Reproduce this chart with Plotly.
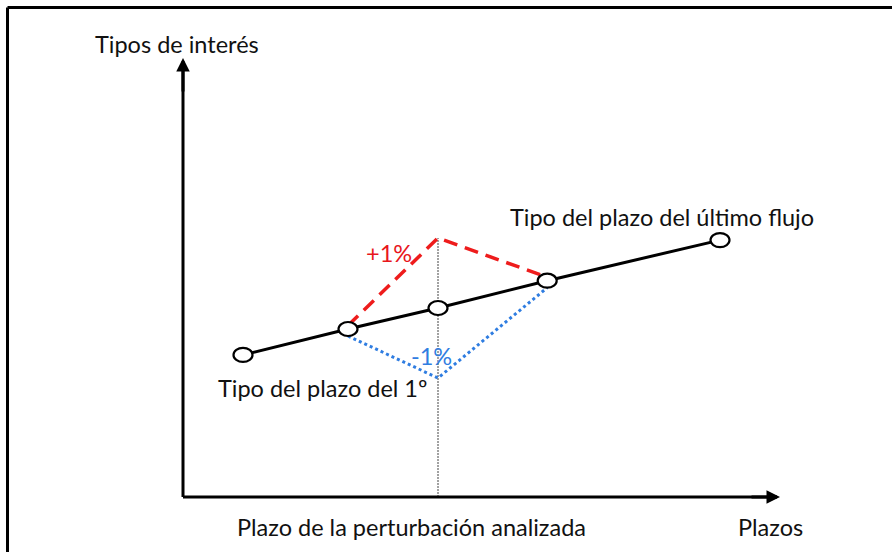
import plotly.graph_objects as go

# Curve of rates (plazo in abstract units, tipo in %)
plazos = [1.0, 2.75, 4.25, 6.07, 8.95]
tipos = [2.03, 2.40, 2.70, 3.09, 3.67]

# Perturbation: +1% / -1% at the analysed term (index 2)
shock = 1.0
idx = 2

# Axis extents
x_axis_end = 9.95
y_axis_end = 6.27

FONT = "Lato, Carlito, Calibri, sans-serif"
FS = 23.5
W, H = 892, 552
PX_X = 60.0   # px per x unit
PX_Y = 70.0   # px per y unit
X0_PX, Y0_PX = 183, 497

xr = [-X0_PX / PX_X, (W - X0_PX) / PX_X]
yr = [-(H - Y0_PX) / PX_Y, Y0_PX / PX_Y]

fig = go.Figure()

# Vertical dotted guide at analysed term
xp = plazos[idx]
peak = tipos[idx] + shock
trough = tipos[idx] - shock
fig.add_trace(go.Scatter(x=[xp, xp], y=[0, peak], mode="lines",
                         line=dict(color="#444444", width=1, dash="2px,1px"),
                         hoverinfo="skip", showlegend=False))

# Main curve
fig.add_trace(go.Scatter(x=plazos, y=tipos, mode="lines",
                         line=dict(color="black", width=3),
                         hoverinfo="skip", showlegend=False))

# +1% red dashed
fig.add_trace(go.Scatter(x=[plazos[idx - 1], xp, plazos[idx + 1]],
                         y=[tipos[idx - 1] + 0.05, peak, tipos[idx + 1] + 0.05],
                         mode="lines",
                         line=dict(color="#ee1c1c", width=3.5, dash="14px,8px"),
                         hoverinfo="skip", showlegend=False))

# -1% blue dotted
fig.add_trace(go.Scatter(x=[plazos[idx - 1], xp, plazos[idx + 1]],
                         y=[tipos[idx - 1] - 0.1, trough, tipos[idx + 1] - 0.1],
                         mode="lines",
                         line=dict(color="#2f7de1", width=3, dash="3px,3px"),
                         hoverinfo="skip", showlegend=False))

shapes = []
# Axes lines
shapes.append(dict(type="line", xref="x", yref="y", x0=0, y0=0, x1=0, y1=y_axis_end - 0.05,
                   line=dict(color="black", width=3)))
shapes.append(dict(type="line", xref="x", yref="y", x0=0, y0=0, x1=x_axis_end - 0.05, y1=0,
                   line=dict(color="black", width=3)))
# Frame (top and left)
shapes.append(dict(type="line", xref="paper", yref="paper", x0=7.5 / W, y0=1 - 7.5 / H, x1=1, y1=1 - 7.5 / H,
                   line=dict(color="black", width=3)))
shapes.append(dict(type="line", xref="paper", yref="paper", x0=7.5 / W, y0=1 - 7.5 / H, x1=7.5 / W, y1=0,
                   line=dict(color="black", width=3)))
# Open ellipse markers
rx, ry = 9.5 / PX_X, 7.0 / PX_Y
for px_, ty in zip(plazos, tipos):
    shapes.append(dict(type="circle", xref="x", yref="y", x0=px_ - rx, x1=px_ + rx,
                       y0=ty - ry, y1=ty + ry, fillcolor="white",
                       line=dict(color="black", width=2.2), layer="above"))

annotations = []
# Arrow heads
annotations.append(dict(x=0, y=y_axis_end, ax=0, ay=y_axis_end - 0.5, xref="x", yref="y",
                        axref="x", ayref="y", showarrow=True, arrowhead=2, arrowsize=0.9,
                        arrowwidth=3, arrowcolor="black", text=""))
annotations.append(dict(x=x_axis_end, y=0, ax=x_axis_end - 0.5, ay=0, xref="x", yref="y",
                        axref="x", ayref="y", showarrow=True, arrowhead=2, arrowsize=0.9,
                        arrowwidth=3, arrowcolor="black", text=""))

def label(text, x, y, color="#111111", size=FS):
    annotations.append(dict(text=text, x=x, y=y, xref="x", yref="y", showarrow=False,
                            font=dict(family=FONT, size=size, color=color),
                            xanchor="center", yanchor="middle"))

label("Tipos de interés", (177 - X0_PX) / PX_X, (Y0_PX - 44) / PX_Y)
label("Tipo del plazo del último flujo", (662 - X0_PX) / PX_X, (Y0_PX - 217) / PX_Y)
label("Tipo del plazo del 1º", (322 - X0_PX) / PX_X, (Y0_PX - 388) / PX_Y)
label("+1%", (389 - X0_PX) / PX_X, (Y0_PX - 253) / PX_Y, color="#e8161c")
label("-1%", (431 - X0_PX) / PX_X, (Y0_PX - 356) / PX_Y, color="#2f7de1")
label("Plazo de la perturbación analizada", (411 - X0_PX) / PX_X, (Y0_PX - 527) / PX_Y)
label("Plazos", (770 - X0_PX) / PX_X, (Y0_PX - 527) / PX_Y)

fig.update_layout(
    width=W, height=H,
    margin=dict(l=0, r=0, t=0, b=0),
    paper_bgcolor="white", plot_bgcolor="white",
    xaxis=dict(range=xr, visible=False, fixedrange=True),
    yaxis=dict(range=yr, visible=False, fixedrange=True),
    shapes=shapes, annotations=annotations,
    showlegend=False,
)

fig.write_html("out.html", post_script="document.body.style.margin='0px';",
               config={"displayModeBar": False})
